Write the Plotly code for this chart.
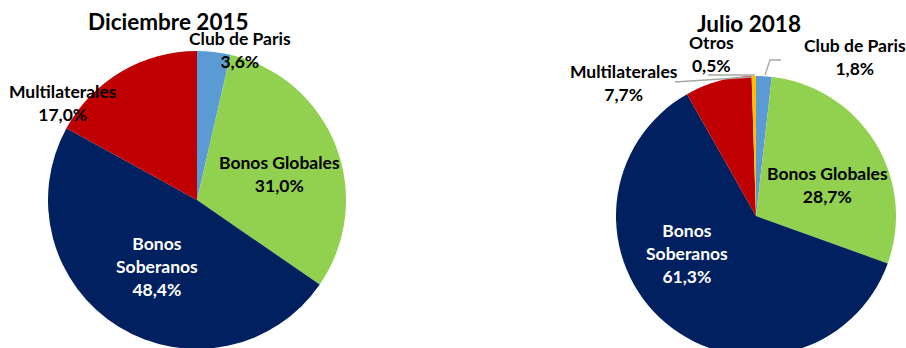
import plotly.graph_objects as go

# ---- data ----
labels_2015 = ["Club de Paris", "Bonos Globales", "Bonos Soberanos", "Multilaterales"]
values_2015 = [3.6, 31.0, 48.4, 17.0]
labels_2018 = ["Club de Paris", "Bonos Globales", "Bonos Soberanos", "Multilaterales", "Otros"]
values_2018 = [1.8, 28.7, 61.3, 7.7, 0.5]
titles = ["Diciembre 2015", "Julio 2018"]

colors = {
    "Club de Paris": "#5B9BD5",
    "Bonos Globales": "#92D050",
    "Bonos Soberanos": "#002060",
    "Multilaterales": "#C00000",
    "Otros": "#FFC000",
}

W, H = 906, 360
FONT = "Lato"


def px(x, y):
    return x / W, (H - y) / H


def fmt(v):
    return f"{v:.1f}".replace(".", ",") + "%"


def label_text(lbl, v):
    name = lbl.replace("Bonos Soberanos", "Bonos<br>Soberanos")
    return f"<b>{name}<br>{fmt(v)}</b>"


fig = go.Figure()

# pie geometry (pixel centre, radius)
geo = [((197, 200), 149), ((756, 216), 140)]
for (lbls, vals), ((cx, cy), r) in zip([(labels_2015, values_2015), (labels_2018, values_2018)], geo):
    fig.add_trace(go.Pie(
        labels=lbls, values=vals, sort=False, direction="clockwise", rotation=0,
        marker=dict(colors=[colors[l] for l in lbls], line=dict(width=0)),
        textinfo="none", hoverinfo="label+percent", showlegend=False,
        domain=dict(x=[(cx - r) / W, (cx + r) / W], y=[(H - cy - r) / H, (H - cy + r) / H]),
    ))

annotations = []
# titles
for t, (x, y) in zip(titles, [(168, 21), (749, 24)]):
    ax, ay = px(x, y)
    annotations.append(dict(text=f"<b>{t}</b>", x=ax, y=ay, xref="paper", yref="paper",
                            showarrow=False, xanchor="center", yanchor="middle",
                            font=dict(family=FONT, size=22.5, color="#000000")))

label_pos_2015 = {"Club de Paris": (240, 50), "Multilaterales": (63, 103),
                  "Bonos Globales": (279, 174), "Bonos Soberanos": (157, 266)}
label_pos_2018 = {"Otros": (711, 54), "Club de Paris": (855, 57), "Multilaterales": (624, 83),
                  "Bonos Globales": (827, 185), "Bonos Soberanos": (687, 254)}

for lbls, vals, pos in [(labels_2015, values_2015, label_pos_2015), (labels_2018, values_2018, label_pos_2018)]:
    for l, v in zip(lbls, vals):
        x, y = pos[l]
        ax, ay = px(x, y)
        col = "#FFFFFF" if l == "Bonos Soberanos" else "#000000"
        annotations.append(dict(text=label_text(l, v), x=ax, y=ay, xref="paper", yref="paper",
                                showarrow=False, xanchor="center", yanchor="middle",
                                font=dict(family=FONT, size=17.5, color=col)))

# leader lines (2018 chart)
shapes = []
leaders = [
    [(675, 82), (752, 77)],                # Multilaterales
    [(708, 75), (755, 75)],                # Otros
    [(765, 75), (770, 60), (781, 60)],     # Club de Paris
]
for pts in leaders:
    path = "M " + " L ".join(f"{px(x, y)[0]},{px(x, y)[1]}" for x, y in pts)
    shapes.append(dict(type="path", path=path, xref="paper", yref="paper",
                       line=dict(color="#A6A6A6", width=1.3)))

fig.update_layout(
    width=W, height=H, margin=dict(l=0, r=0, t=0, b=0),
    paper_bgcolor="#FFFFFF", plot_bgcolor="#FFFFFF",
    annotations=annotations, shapes=shapes,
    font=dict(family=FONT),
)

fig.write_html("out.html", post_script="document.body.style.overflow='hidden';document.body.style.margin='0';")
